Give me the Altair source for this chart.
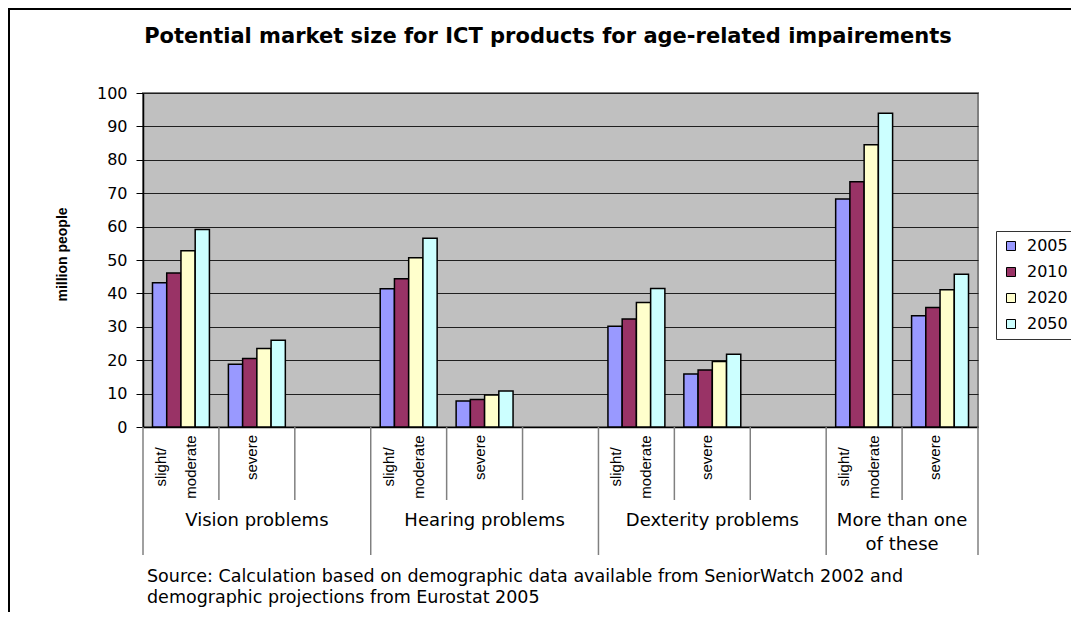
import altair as alt
import pandas as pd

# ---------------- data ----------------
title_text = "Potential market size for ICT products for age-related impairements"
y_title = "million people"
source_lines = [
    "Source: Calculation based on demographic data available from SeniorWatch 2002 and",
    "demographic projections from Eurostat 2005",
]

years = ["2005", "2010", "2020", "2050"]
year_colors = ["#9999FF", "#993366", "#FFFFCC", "#CCFFFF"]

groups = [["Vision problems"], ["Hearing problems"], ["Dexterity problems"], ["More than one", "of these"]]
severities = [["slight/", "moderate"], ["severe"]]
slots_per_group = [3, 3, 3, 2]

vision_slight = [43.2, 46.1, 52.8, 59.1]
vision_severe = [18.8, 20.5, 23.5, 26.0]
hearing_slight = [41.4, 44.4, 50.7, 56.5]
hearing_severe = [7.8, 8.2, 9.6, 10.8]
dexterity_slight = [30.2, 32.3, 37.3, 41.5]
dexterity_severe = [15.9, 17.1, 19.6, 21.8]
multiple_slight = [68.3, 73.4, 84.5, 93.9]
multiple_severe = [33.3, 35.8, 41.1, 45.7]

series = [
    [vision_slight, vision_severe],
    [hearing_slight, hearing_severe],
    [dexterity_slight, dexterity_severe],
    [multiple_slight, multiple_severe],
]

# ---------------- tables ----------------
starts = [sum(slots_per_group[:i]) for i in range(len(slots_per_group))]
n_slots = sum(slots_per_group)

bar_rows, sub_rows, grp_rows = [], [], []
for gi, grp in enumerate(groups):
    for si, sev in enumerate(severities):
        slot = starts[gi] + si
        for yi, yr in enumerate(years):
            bar_rows.append({"slot": slot, "year": yr, "value": series[gi][si][yi]})
        sub_rows.append({"pos": slot + 0.5, "label": "\n".join(sev), "lines": len(sev)})
    grp_rows.append({"pos": starts[gi] + slots_per_group[gi] / 2, "label": "\n".join(grp)})

bar_df = pd.DataFrame(bar_rows)
sub_df = pd.DataFrame(sub_rows)
grp_df = pd.DataFrame(grp_rows)

long_pos = starts + [n_slots]
short_pos = [p for p in range(n_slots + 1) if p not in long_pos]
long_df = pd.DataFrame({"pos": long_pos})
short_df = pd.DataFrame({"pos": short_pos})

W, H = 835, 334
ann_x = alt.Scale(domain=[0, n_slots], nice=False, zero=False)

frame = alt.Chart(pd.DataFrame({"a": [0]})).mark_rect(
    fillOpacity=0, stroke="black", strokeWidth=2
).encode(x=alt.value(-134), y=alt.value(-84), x2=alt.value(1000), y2=alt.value(700))

bars = alt.Chart(bar_df).mark_bar(stroke="black", strokeWidth=1.5).encode(
    x=alt.X(
        "slot:O",
        scale=alt.Scale(domain=list(range(n_slots)), paddingInner=0.25, paddingOuter=0.125),
        axis=alt.Axis(title=None, labels=False, ticks=False, domain=True,
                      domainColor="black", domainWidth=1.5, grid=False),
    ),
    xOffset=alt.XOffset("year:N", scale=alt.Scale(domain=years, paddingInner=0, paddingOuter=0)),
    y=alt.Y(
        "value:Q",
        scale=alt.Scale(domain=[0, 100], nice=False),
        axis=alt.Axis(
            values=list(range(0, 101, 10)),
            title=y_title,
            titleFont="Liberation Sans", titleFontSize=14, titleFontWeight="bold",
            titleColor="black", titleAngle=270, titleX=-81, titleY=161,
            titleAlign="center", titleBaseline="middle",
            labelFont="DejaVu Sans", labelFontSize=16, labelColor="black",
            labelPadding=9, tickSize=7, tickColor="black", tickWidth=1,
            domainColor="black", domainWidth=1.5,
            grid=True, gridColor="#1f1f1f", gridWidth=1,
        ),
    ),
    color=alt.Color(
        "year:N",
        scale=alt.Scale(domain=years, range=year_colors),
        legend=alt.Legend(
            title=None, orient="none", legendX=853, legendY=138,
            symbolType="square", symbolSize=81, symbolStrokeColor="black",
            symbolStrokeWidth=1, symbolOpacity=1,
            labelFont="DejaVu Sans", labelFontSize=16, labelColor="black",
            labelOffset=8, rowPadding=10, padding=7,
            strokeColor="#333333", fillColor="white",
        ),
    ),
)

short_rules = alt.Chart(short_df).mark_rule(color="#808080", strokeWidth=1.5).encode(
    x=alt.X("pos:Q", scale=ann_x, axis=None), y=alt.value(H), y2=alt.value(407)
)
long_rules = alt.Chart(long_df).mark_rule(color="#808080", strokeWidth=1.5).encode(
    x=alt.X("pos:Q", scale=ann_x, axis=None), y=alt.value(H), y2=alt.value(462)
)

sub_multi = alt.Chart(sub_df).transform_filter(alt.datum.lines > 1).mark_text(
    angle=270, align="center", baseline="middle", lineBreak="\n", lineHeight=30,
    dy=-20, font="Liberation Sans", fontSize=15, color="black",
).encode(x=alt.X("pos:Q", scale=ann_x, axis=None), y=alt.value(374), text="label:N")

sub_single = alt.Chart(sub_df).transform_filter(alt.datum.lines == 1).mark_text(
    angle=270, align="right", baseline="middle", dy=-5,
    font="Liberation Sans", fontSize=15, color="black",
).encode(x=alt.X("pos:Q", scale=ann_x, axis=None), y=alt.value(342), text="label:N")

grp_text = alt.Chart(grp_df).mark_text(
    align="center", baseline="top", lineBreak="\n", lineHeight=24,
    font="DejaVu Sans", fontSize=18, color="black",
).encode(x=alt.X("pos:Q", scale=ann_x, axis=None), y=alt.value(419), text="label:N")

title = alt.Chart(pd.DataFrame({"t": [title_text]})).mark_text(
    align="center", baseline="alphabetic", font="DejaVu Sans", fontWeight="bold",
    fontSize=21, color="black",
).encode(x=alt.value(405), y=alt.value(-50), text="t:N")

source = alt.Chart(pd.DataFrame({"t": ["\n".join(source_lines)]})).mark_text(
    align="left", baseline="alphabetic", lineBreak="\n", lineHeight=21,
    font="DejaVu Sans", fontSize=17.5, color="black",
).encode(x=alt.value(4), y=alt.value(489), text="t:N")

chart = (
    alt.layer(frame, bars, short_rules, long_rules, sub_multi, sub_single, grp_text, title, source)
    .resolve_scale(x="independent")
    .properties(
        width=W, height=H,
        padding={"left": 135, "top": 85, "right": 93, "bottom": 185},
        autosize=alt.AutoSizeParams(type="none"),
        background="white",
    )
    .configure_view(fill="#C0C0C0", stroke="#808080", strokeWidth=2)
)

chart.save("out.html", embed_options={"renderer": "svg", "actions": False})
